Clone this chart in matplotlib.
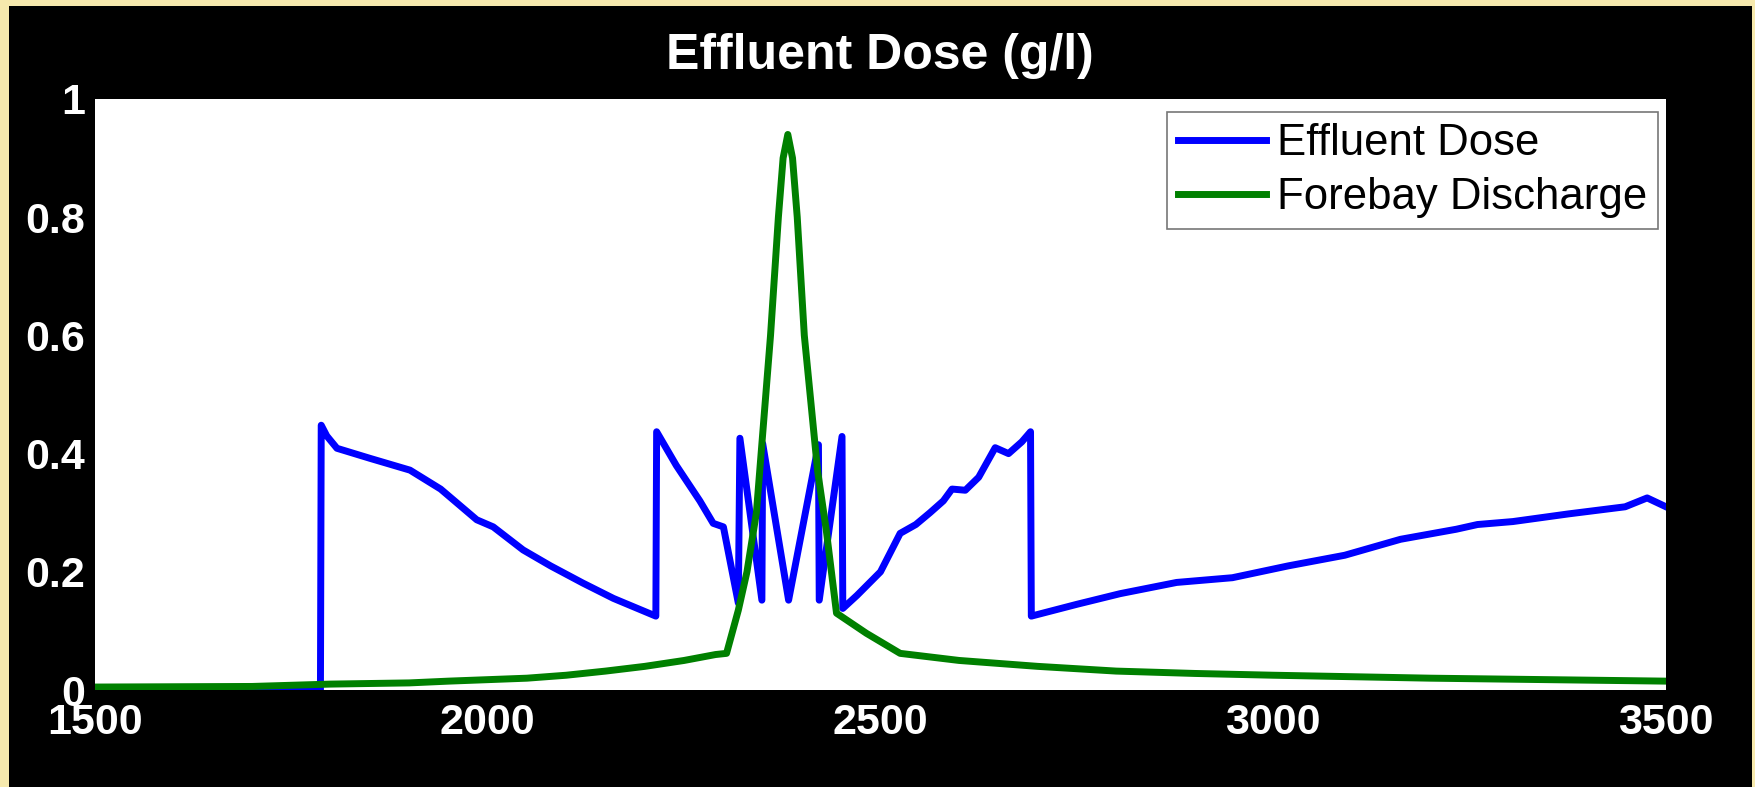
import numpy as np
import matplotlib
matplotlib.use('Agg')
import matplotlib.pyplot as plt
from matplotlib.patches import Rectangle

# Effluent dose (blue)
dose_x = [1500, 1787, 1788, 1795, 1808, 1850, 1901, 1940, 1986, 2007, 2045, 2080,
          2121, 2160, 2214, 2215, 2240, 2270, 2287, 2300, 2319, 2321, 2349, 2350,
          2383, 2421, 2422, 2451, 2452, 2470, 2500, 2525, 2545, 2563, 2580, 2591,
          2608, 2625, 2646, 2663, 2680, 2691, 2692, 2750, 2805, 2877, 2948, 3019,
          3091, 3162, 3233, 3260, 3305, 3376, 3448, 3476, 3500]
dose_y = [0.0, 0.0, 0.448, 0.43, 0.409, 0.392, 0.372, 0.34, 0.288, 0.276, 0.237, 0.21,
          0.181, 0.155, 0.125, 0.437, 0.38, 0.32, 0.282, 0.276, 0.147, 0.426, 0.152, 0.417,
          0.152, 0.415, 0.152, 0.429, 0.138, 0.16, 0.2, 0.265, 0.28, 0.3, 0.32, 0.34,
          0.338, 0.36, 0.41, 0.40, 0.42, 0.437, 0.125, 0.145, 0.163, 0.182, 0.19, 0.21,
          0.228, 0.255, 0.272, 0.28, 0.285, 0.298, 0.31, 0.325, 0.31]

# Forebay discharge (green)
fore_x = [1500, 1700, 1800, 1900, 1950, 2050, 2100, 2150, 2200, 2250, 2290, 2304,
          2319, 2330, 2342, 2360, 2370, 2376, 2382, 2388, 2394, 2403, 2420, 2431,
          2444, 2482, 2525, 2600, 2700, 2800, 2900, 3000, 3200, 3500]
fore_y = [0.005, 0.006, 0.01, 0.012, 0.015, 0.02, 0.025, 0.032, 0.04, 0.05, 0.06, 0.062,
          0.135, 0.2, 0.30, 0.6, 0.8, 0.9, 0.94, 0.9, 0.8, 0.6, 0.37, 0.27,
          0.13, 0.096, 0.062, 0.05, 0.04, 0.032, 0.028, 0.025, 0.02, 0.015]

x_ticks = [1500, 2000, 2500, 3000, 3500]
y_ticks = [0, 0.2, 0.4, 0.6, 0.8, 1]
y_labels = ['0', '0.2', '0.4', '0.6', '0.8', '1']

plt.rcParams['font.family'] = ['Liberation Sans', 'DejaVu Sans']

fig = plt.figure(figsize=(17.56, 7.87), dpi=100)
fig.patch.set_facecolor('#f6e9ad')
# black slide panel
fig.add_artist(Rectangle((9 / 1756, 0), (1752 - 9) / 1756, (787 - 6) / 787,
                         transform=fig.transFigure, facecolor='black',
                         edgecolor='none', zorder=0))

ax = fig.add_axes([95 / 1756, 97 / 787, (1666 - 95) / 1756, (690 - 99) / 787])
ax.set_facecolor('white')

ax.plot(dose_x, dose_y, color='#0000ff', linewidth=5, label='Effluent Dose',
        solid_joinstyle='round')
ax.plot(fore_x, fore_y, color='#008000', linewidth=5, label='Forebay Discharge',
        solid_joinstyle='round')

ax.set_xlim(1500, 3500)
ax.set_ylim(0, 1)
ax.set_xticks(x_ticks)
ax.set_xticklabels([str(t) for t in x_ticks])
ax.set_yticks(y_ticks)
ax.set_yticklabels(y_labels)
ax.tick_params(length=0, colors='white', labelsize=31)
ax.tick_params(axis='y', pad=7)
ax.tick_params(axis='x', pad=9)
for lbl in ax.get_xticklabels() + ax.get_yticklabels():
    lbl.set_fontweight('bold')
for sp in ax.spines.values():
    sp.set_visible(False)

fig.text(880 / 1756, 1 - 56 / 787, 'Effluent Dose (g/l)', color='white',
         fontsize=36, fontweight='bold', ha='center', va='center')

leg = ax.legend(loc='upper right', fontsize=31.5, frameon=True, fancybox=False,
                handlelength=2.0, handletextpad=0.25, borderpad=0.25,
                labelspacing=0.3, borderaxespad=0,
                bbox_to_anchor=(1 - 8 / 1571, 1 - 13 / 591))
leg.get_frame().set_edgecolor('#555555')
leg.get_frame().set_linewidth(1.2)

fig.savefig('out.png', dpi=100, facecolor=fig.get_facecolor())
